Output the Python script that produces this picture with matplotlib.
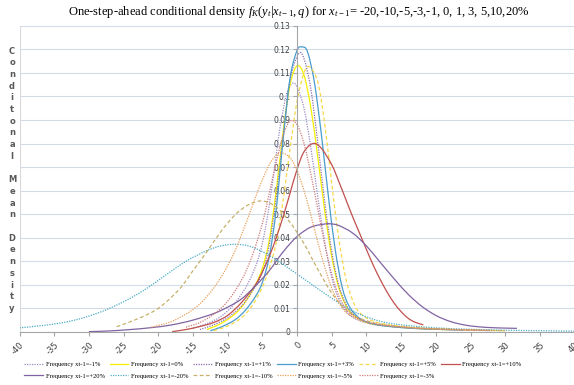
"""
One-step-ahead conditional densities for several previous-period returns,
Excel-style smoothed line chart (y axis crossing at x = 0, legend under the plot).
Output: out.png (574x385)
"""

import matplotlib
matplotlib.use("Agg")
import matplotlib.pyplot as plt
from matplotlib.path import Path
from matplotlib.patches import PathPatch
from matplotlib.lines import Line2D

plt.rcParams["mathtext.fontset"] = "custom"
plt.rcParams["mathtext.rm"] = "Liberation Serif"
plt.rcParams["mathtext.it"] = "Liberation Serif:italic"

# ── data ─────────────────────────────────────────────────────────────────────
x_m1 = [-15, -13, -11, -9, -7, -5.5, -4.5, -3.5, -2.5, -1.5, -0.7, 0, 1, 2, 3, 4, 5, 6, 7, 8, 10, 13, 17, 22, 28]
y_m1 = [0.0015, 0.0035, 0.0065, 0.0120, 0.0210, 0.0320, 0.0450, 0.0640, 0.0860, 0.1010, 0.1055, 0.1040, 0.0950,
        0.0780, 0.0570, 0.0380, 0.0230, 0.0140, 0.0090, 0.0062, 0.0038, 0.0024, 0.0015, 0.0009, 0.0005]

x_0 = [-13, -11, -9, -7.5, -6, -5, -4, -3, -2, -1, 0, 1, 2, 3, 4, 5, 6, 7, 8, 10, 13, 17, 22]
y_0 = [0.0010, 0.0035, 0.0075, 0.0125, 0.0200, 0.0270, 0.0390, 0.0600, 0.0850, 0.1050, 0.1130, 0.1090, 0.0950,
       0.0740, 0.0510, 0.0320, 0.0190, 0.0115, 0.0075, 0.0040, 0.0025, 0.0015, 0.0009]

x_p1 = [-14, -12, -10, -8, -6.5, -5, -4, -3, -2, -1, 0.2, 1, 2, 3, 4, 5, 6, 7, 8, 10, 13, 17, 22, 28]
y_p1 = [0.0010, 0.0030, 0.0060, 0.0110, 0.0170, 0.0250, 0.0370, 0.0570, 0.0830, 0.1070, 0.1180, 0.1160, 0.1030,
        0.0800, 0.0550, 0.0340, 0.0200, 0.0120, 0.0078, 0.0042, 0.0026, 0.0016, 0.0010, 0.0006]

x_p3 = [-12.5, -11, -9, -7.5, -6, -5, -4, -3, -2, -1, 0, 0.7, 1.5, 2.5, 3.5, 4.5, 5.5, 6.5, 7.5, 9, 11, 14, 18, 24]
y_p3 = [0.0005, 0.0020, 0.0050, 0.0090, 0.0150, 0.0210, 0.0320, 0.0520, 0.0820, 0.1080, 0.1195, 0.1210, 0.1190,
        0.1060, 0.0840, 0.0580, 0.0350, 0.0190, 0.0110, 0.0058, 0.0033, 0.0021, 0.0013, 0.0008]

x_p5 = [-12, -10, -8, -6.5, -5, -4, -3, -2, -1, 0, 1, 1.8, 3, 4, 5, 6, 7, 8, 9, 11, 14, 18, 24, 30]
y_p5 = [0.0005, 0.0025, 0.0060, 0.0110, 0.0190, 0.0270, 0.0380, 0.0560, 0.0780, 0.0980, 0.1100, 0.1125, 0.1060,
        0.0880, 0.0630, 0.0400, 0.0230, 0.0135, 0.0082, 0.0045, 0.0027, 0.0016, 0.0009, 0.0005]

x_p10 = [-18, -16, -14, -12, -10, -8, -6, -5, -4, -3, -2, -1, 0, 1, 2.3, 3.5, 5, 6, 7, 8, 9, 10, 11, 12, 13, 14,
         15, 16, 17, 18.2]
y_p10 = [0.0001, 0.0010, 0.0023, 0.0040, 0.0070, 0.0125, 0.0200, 0.0255, 0.0320, 0.0400, 0.0490, 0.0590, 0.0690,
         0.0765, 0.0800, 0.0780, 0.0710, 0.0640, 0.0565, 0.0490, 0.0420, 0.0350, 0.0282, 0.0222, 0.0168, 0.0122,
         0.0086, 0.0058, 0.0041, 0.0030]

x_p20 = [-30, -27, -24, -21, -18, -15, -12, -10, -8, -6, -4, -2, 0, 2, 4, 4.8, 6, 8, 10, 12, 14, 16, 18, 20, 22,
         24, 26, 28, 30, 31.7]
y_p20 = [0.0001, 0.0004, 0.0010, 0.0018, 0.0030, 0.0050, 0.0078, 0.0105, 0.0140, 0.0195, 0.0260, 0.0340, 0.0405,
         0.0445, 0.0458, 0.0459, 0.0452, 0.0420, 0.0365, 0.0295, 0.0225, 0.0160, 0.0108, 0.0070, 0.0045, 0.0030,
         0.0022, 0.0018, 0.0016, 0.0015]

x_m20 = [-40, -37, -34, -31, -28, -25, -22, -19, -16, -13, -11, -9, -7, -5, -3, -1, 1, 3, 5, 7, 9, 12, 15, 20,
         25, 30, 35, 40]
y_m20 = [0.0017, 0.0026, 0.0038, 0.0058, 0.0088, 0.0128, 0.0178, 0.0240, 0.0300, 0.0345, 0.0365, 0.0372, 0.0365,
         0.0341, 0.0306, 0.0266, 0.0225, 0.0183, 0.0143, 0.0105, 0.0075, 0.0045, 0.0030, 0.0017, 0.0011, 0.0007,
         0.0005, 0.0003]

x_m10 = [-26, -23, -20, -17, -15, -13, -11, -9, -7, -5, -3, -1, 1, 3, 5, 7, 9, 12, 16, 20, 25, 30]
y_m10 = [0.0022, 0.0055, 0.0100, 0.0180, 0.0260, 0.0340, 0.0425, 0.0495, 0.0540, 0.0556, 0.0530, 0.0465, 0.0375,
         0.0265, 0.0165, 0.0095, 0.0058, 0.0033, 0.0020, 0.0013, 0.0008, 0.0005]

x_m5 = [-21, -18, -15, -13, -11, -9, -7, -5.5, -4, -3, -2.2, -1, 0, 1, 2, 3, 4, 5, 6, 7, 9, 12, 16, 20, 26]
y_m5 = [0.0020, 0.0045, 0.0095, 0.0150, 0.0230, 0.0340, 0.0490, 0.0610, 0.0710, 0.0750, 0.0760, 0.0740, 0.0685,
        0.0600, 0.0495, 0.0380, 0.0275, 0.0185, 0.0125, 0.0085, 0.0050, 0.0030, 0.0018, 0.0012, 0.0008]

x_m3 = [-16, -14, -12, -10, -8, -6.5, -5, -4, -3, -2, -1, 0, 1, 2, 3, 4, 5, 6, 7, 8, 10, 13, 17, 22, 28]
y_m3 = [0.0020, 0.0040, 0.0075, 0.0130, 0.0220, 0.0320, 0.0460, 0.0590, 0.0720, 0.0835, 0.0895, 0.0880, 0.0800,
        0.0670, 0.0520, 0.0370, 0.0245, 0.0155, 0.0100, 0.0070, 0.0042, 0.0026, 0.0016, 0.0010, 0.0006]

x_ticks = list(range(-40, 41, 5))
y_ticks = [0, 0.01, 0.02, 0.03, 0.04, 0.05, 0.06, 0.07, 0.08, 0.09, 0.1, 0.11, 0.12, 0.13]
y_tick_labels = ["0", "0.01", "0.02", "0.03", "0.04", "0.05", "0.06", "0.07", "0.08", "0.09", "0.1",
                 "0.11", "0.12", "0.13"]

# label, x, y, colour, linestyle  (legend order, row by row)
SERIES = [
    ("Frequency xt-1=-1%",  x_m1,  y_m1,  "#9d8cc4", (0, (1, 1))),
    ("Frequency xt-1=0%",   x_0,   y_0,   "#f5f000", "-"),
    ("Frequency xt-1=+1%",  x_p1,  y_p1,  "#8a6fb0", (0, (1, 1))),
    ("Frequency xt-1=+3%",  x_p3,  y_p3,  "#4a9ccb", "-"),
    ("Frequency xt-1=+5%",  x_p5,  y_p5,  "#f7d84a", (0, (3, 2))),
    ("Frequency xt-1=+10%", x_p10, y_p10, "#c0504d", "-"),
    ("Frequency xt-1=+20%", x_p20, y_p20, "#8064a2", "-"),
    ("Frequency xt-1=-20%", x_m20, y_m20, "#4bacc6", (0, (1, 1))),
    ("Frequency xt-1=-10%", x_m10, y_m10, "#c6b06a", (0, (3, 2))),
    ("Frequency xt-1=-5%",  x_m5,  y_m5,  "#e9a05a", (0, (1, 1))),
    ("Frequency xt-1=-3%",  x_m3,  y_m3,  "#d27c7a", (0, (1, 1))),
]

GRID = "#d3dbe6"
AXIS = "#a6a6a6"
TXT = "#404040"


def smooth_path(xs, ys):
    """Excel-like smoothed line: Catmull-Rom segments as cubic Beziers."""
    pts = list(zip(xs, ys))
    n = len(pts)
    verts, codes = [pts[0]], [Path.MOVETO]
    for i in range(n - 1):
        p0 = pts[i - 1] if i > 0 else pts[i]
        p1, p2 = pts[i], pts[i + 1]
        p3 = pts[i + 2] if i + 2 < n else p2
        c1 = (p1[0] + (p2[0] - p0[0]) / 6, p1[1] + (p2[1] - p0[1]) / 6)
        c2 = (p2[0] - (p3[0] - p1[0]) / 6, p2[1] - (p3[1] - p1[1]) / 6)
        verts += [c1, c2, p2]
        codes += [Path.CURVE4] * 3
    return Path(verts, codes)


# ── plot ─────────────────────────────────────────────────────────────────────
fig = plt.figure(figsize=(5.74, 3.85), dpi=100)
ax = fig.add_axes([0.034, 0.138, 0.967, 0.795])

# excel style: value axis crosses at 0 (set before tick styling, it resets ticks)
ax.spines["left"].set_position(("data", 0))
ax.spines["left"].set_color(AXIS)
ax.spines["bottom"].set_color(AXIS)
ax.spines[["top", "right"]].set_visible(False)

handles = []
for label, xs, ys, color, ls in SERIES:
    ax.add_patch(PathPatch(smooth_path(xs, ys), fill=False, edgecolor=color,
                           linestyle=ls, linewidth=0.9))
    handles.append(Line2D([], [], color=color, linestyle=ls, linewidth=0.9, label=label))

ax.set_xlim(-40, 40)
ax.set_ylim(0, 0.13)
ax.set_xticks(x_ticks)
ax.set_xticklabels([str(v) for v in x_ticks], rotation=45, ha="right",
                   rotation_mode="anchor", fontsize=6, color=TXT)
ax.set_yticks(y_ticks)
ax.set_yticklabels(y_tick_labels, fontsize=5.5, color=TXT)
ax.grid(axis="y", color=GRID, linewidth=0.8)
ax.set_axisbelow(True)
ax.tick_params(axis="both", color=AXIS, length=3, width=0.8, pad=2)
ax.tick_params(axis="x", pad=3)
ax.axvline(-40, color="#d9d9d9", linewidth=0.8, zorder=0)

# title (serif, italic maths parts)
fig.text(0.52, 0.969,
         r"One-step-ahead conditional density $f_K(y_t|x_{t-1},q)$ for $x_{t-1}$= -20,-10,-5,-3,-1, 0, 1, 3, 5,10,20%",
         ha="center", va="center", fontsize=9, family="Liberation Serif")

# stacked y label, one letter per line
y0, dy = 1 - 51 / 385, 11.7 / 385
row = 0
for word in ["Conditonal", "Mean", "Density"]:
    for ch in word:
        fig.text(12 / 574, y0 - row * dy, ch, ha="center", va="center",
                 fontsize=6, fontweight="bold", color="#595959")
        row += 1
    row += 1

# legend: matplotlib fills column-major, so interleave the two rows
row1, row2 = handles[:6], handles[6:]
order = []
for i in range(6):
    order.append(row1[i])
    if i < len(row2):
        order.append(row2[i])
fig.legend(handles=order, labels=[h.get_label() for h in order], ncol=6,
           loc="upper left", bbox_to_anchor=(0.038, 0.0675), frameon=False,
           prop={"family": "Liberation Serif", "size": 4.7}, handlelength=2.9,
           handletextpad=0.4, columnspacing=0.7, labelspacing=0.9, borderaxespad=0)

fig.savefig("out.png", dpi=100)
plt.close(fig)
